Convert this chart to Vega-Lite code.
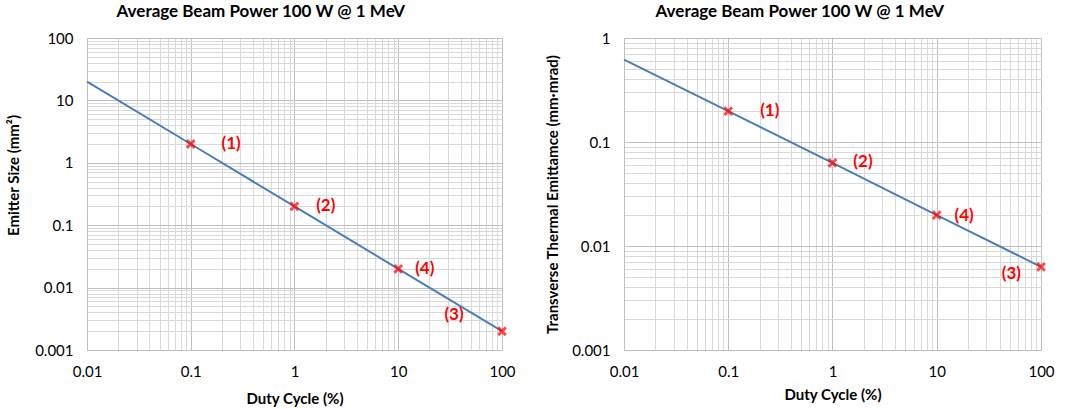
{
  "$schema": "https://vega.github.io/schema/vega-lite/v6.json",
  "padding": {"left": 6, "top": 3, "right": 10, "bottom": 5},
  "background": "white",
  "spacing": 29,
  "config": {
    "font": "Lato",
    "view": {"stroke": null},
    "title": {"font": "Lato", "fontSize": 17, "fontWeight": "bold", "color": "#000000", "offset": 10, "frame": "bounds"},
    "axis": {
      "labelFont": "Lato", "labelFontSize": 15, "labelColor": "#000000",
      "titleFont": "Lato", "titleFontSize": 15, "titleFontWeight": "bold", "titleColor": "#000000",
      "ticks": false, "tickSize": 0, "labelPadding": 14,
      "domainColor": "#bfbfbf", "labelOverlap": false, "labelFlush": false,
      "labelExpr": "indexof([0.001,0.01,0.1,1,10,100], datum.value) >= 0 ? format(datum.value, '~g') : ''",
      "gridColor": {"condition": {"test": "indexof([0.001,0.01,0.1,1,10,100], datum.value) >= 0", "value": "#bfbfbf"}, "value": "#d9d9d9"}
    }
  },
  "datasets": {
    "leftLine": [{"x": 0.01, "y": 20}, {"x": 0.1, "y": 2}, {"x": 1, "y": 0.2}, {"x": 10, "y": 0.02}, {"x": 100, "y": 0.002}],
    "leftPts": [{"x": 0.1, "y": 2}, {"x": 1, "y": 0.2}, {"x": 10, "y": 0.02}, {"x": 100, "y": 0.002}],
    "leftLabels": [
      {"x": 0.245, "y": 2.0, "label": "(1)"},
      {"x": 2.0, "y": 0.2, "label": "(2)"},
      {"x": 18, "y": 0.02, "label": "(4)"},
      {"x": 34.5, "y": 0.0036, "label": "(3)"}
    ],
    "rightLine": [{"x": 0.01, "y": 0.62}, {"x": 0.1, "y": 0.198}, {"x": 1, "y": 0.063}, {"x": 10, "y": 0.0198}, {"x": 100, "y": 0.0063}],
    "rightPts": [{"x": 0.1, "y": 0.198}, {"x": 1, "y": 0.063}, {"x": 10, "y": 0.0198}, {"x": 100, "y": 0.0063}],
    "rightLabels": [
      {"x": 0.25, "y": 0.198, "label": "(1)"},
      {"x": 1.96, "y": 0.064, "label": "(2)"},
      {"x": 18.3, "y": 0.0196, "label": "(4)"},
      {"x": 52, "y": 0.0054, "label": "(3)"}
    ]
  },
  "hconcat": [
    {
      "title": "Average Beam Power 100 W @ 1 MeV",
      "width": 415, "height": 312,
      "layer": [
        {
          "data": {"name": "leftLine"},
          "mark": {"type": "line", "color": "#4a7ebb", "strokeWidth": 2},
          "encoding": {
            "x": {"field": "x", "type": "quantitative", "title": "Duty Cycle (%)",
              "scale": {"type": "log", "domain": [0.01, 100], "nice": false},
              "axis": {"values": [0.01,0.02,0.03,0.04,0.05,0.06,0.07,0.08,0.09,0.1,0.2,0.3,0.4,0.5,0.6,0.7,0.8,0.9,1,2,3,4,5,6,7,8,9,10,20,30,40,50,60,70,80,90,100], "titlePadding": 12}},
            "y": {"field": "y", "type": "quantitative", "title": "Emitter Size (mm²)",
              "scale": {"type": "log", "domain": [0.001, 100], "nice": false},
              "axis": {"values": [0.001,0.002,0.003,0.004,0.005,0.006,0.007,0.008,0.009,0.01,0.02,0.03,0.04,0.05,0.06,0.07,0.08,0.09,0.1,0.2,0.3,0.4,0.5,0.6,0.7,0.8,0.9,1,2,3,4,5,6,7,8,9,10,20,30,40,50,60,70,80,90,100], "titlePadding": 13, "titleY": 137}}
          }
        },
        {
          "data": {"name": "leftPts"},
          "mark": {"type": "point", "shape": "M-1,-1L1,1M-1,1L1,-1", "filled": false, "color": "#ff0000", "strokeWidth": 3, "size": 60},
          "encoding": {
            "x": {"field": "x", "type": "quantitative"},
            "y": {"field": "y", "type": "quantitative"}
          }
        },
        {
          "data": {"name": "leftLabels"},
          "mark": {"type": "text", "color": "#ff0000", "fontSize": 17, "fontWeight": "bold", "font": "Lato"},
          "encoding": {
            "x": {"field": "x", "type": "quantitative"},
            "y": {"field": "y", "type": "quantitative"},
            "text": {"field": "label"}
          }
        }
      ]
    },
    {
      "title": "Average Beam Power 100 W @ 1 MeV",
      "width": 417, "height": 312,
      "layer": [
        {
          "data": {"name": "rightLine"},
          "mark": {"type": "line", "color": "#4a7ebb", "strokeWidth": 2},
          "encoding": {
            "x": {"field": "x", "type": "quantitative", "title": "Duty Cycle (%)",
              "scale": {"type": "log", "domain": [0.01, 100], "nice": false},
              "axis": {"values": [0.01,0.02,0.03,0.04,0.05,0.06,0.07,0.08,0.09,0.1,0.2,0.3,0.4,0.5,0.6,0.7,0.8,0.9,1,2,3,4,5,6,7,8,9,10,20,30,40,50,60,70,80,90,100], "titlePadding": 8}},
            "y": {"field": "y", "type": "quantitative", "title": "Transverse Thermal Emittamce (mm·mrad)",
              "scale": {"type": "log", "domain": [0.001, 1], "nice": false},
              "axis": {"values": [0.001,0.002,0.003,0.004,0.005,0.006,0.007,0.008,0.009,0.01,0.02,0.03,0.04,0.05,0.06,0.07,0.08,0.09,0.1,0.2,0.3,0.4,0.5,0.6,0.7,0.8,0.9,1], "titlePadding": 11}}
          }
        },
        {
          "data": {"name": "rightPts"},
          "mark": {"type": "point", "shape": "M-1,-1L1,1M-1,1L1,-1", "filled": false, "color": "#ff0000", "strokeWidth": 3, "size": 60},
          "encoding": {
            "x": {"field": "x", "type": "quantitative"},
            "y": {"field": "y", "type": "quantitative"}
          }
        },
        {
          "data": {"name": "rightLabels"},
          "mark": {"type": "text", "color": "#ff0000", "fontSize": 17, "fontWeight": "bold", "font": "Lato"},
          "encoding": {
            "x": {"field": "x", "type": "quantitative"},
            "y": {"field": "y", "type": "quantitative"},
            "text": {"field": "label"}
          }
        }
      ]
    }
  ]
}
